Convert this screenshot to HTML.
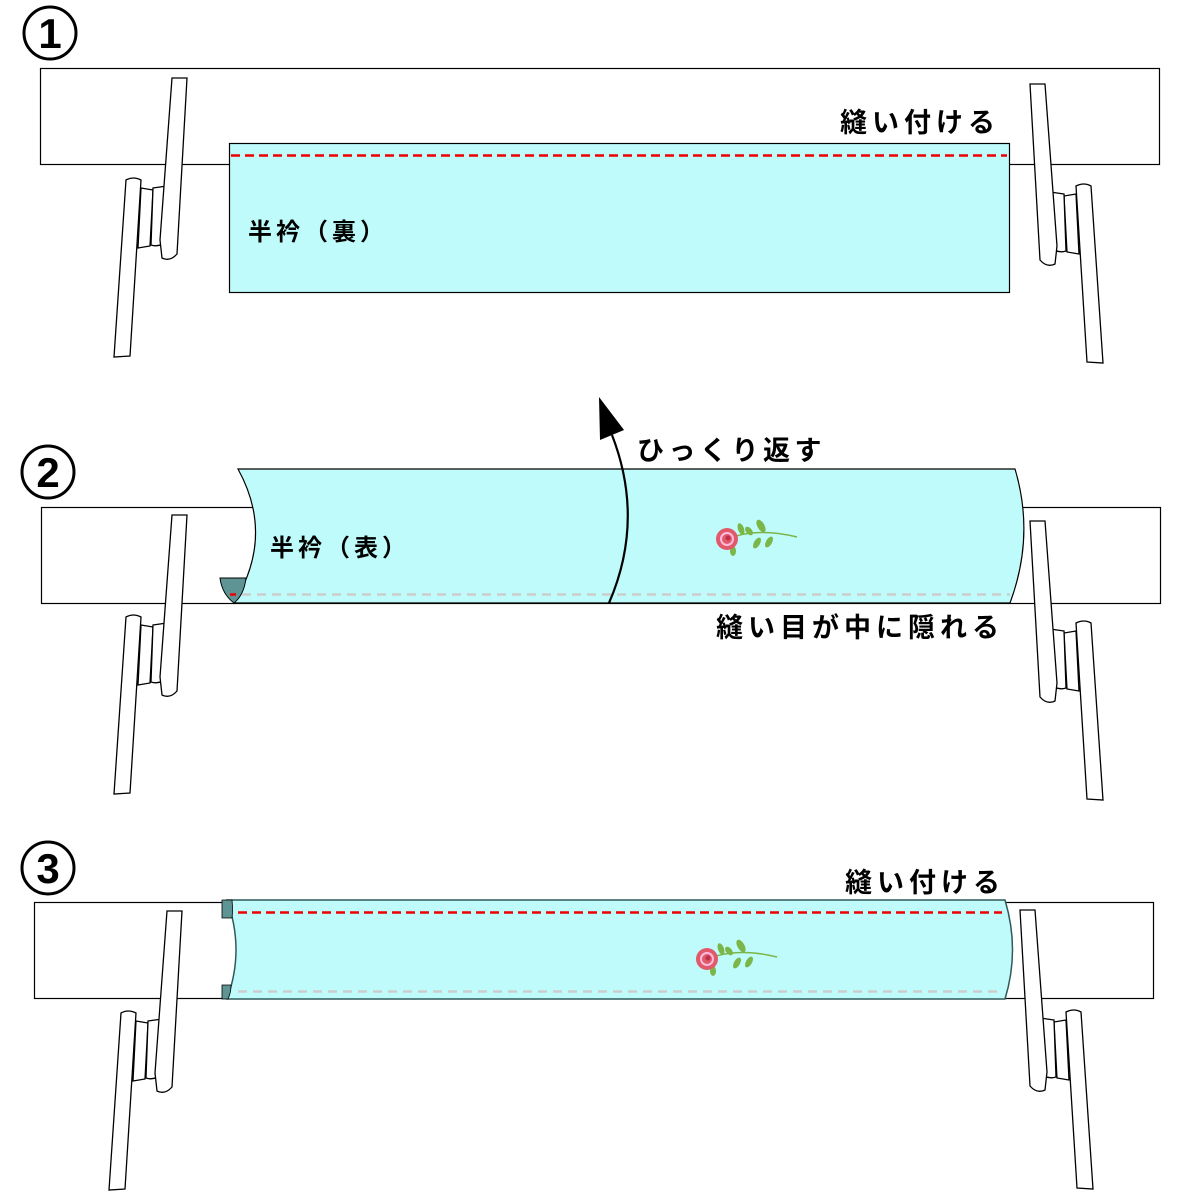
<!DOCTYPE html>
<html><head><meta charset="utf-8"><style>
html,body{margin:0;padding:0;background:#fff}
svg{display:block}
text{font-family:"Liberation Sans","Noto Sans CJK JP",sans-serif;font-weight:bold;fill:#000}
</style></head><body>
<svg width="1200" height="1200" viewBox="0 0 1200 1200" xmlns="http://www.w3.org/2000/svg">
<defs>
<g id="clipL" fill="#fff" stroke="#000" stroke-width="1.3">
  <path d="M126,180 Q133,176 141,180 L130,356 L114,357 Z"/>
  <path d="M141,188 L153,190 L150,246 L138,248 Z"/>
  <path d="M153,188 L167,186 L163,244 Q157,247 151,245 Z"/>
  <path d="M172,78 L187,78 L177,254 Q170,262 162,258 L160,240 Z"/>
</g>
<g id="rose">
  <path d="M0,0 Q30,-12 70,-2" stroke="#7ab648" stroke-width="1.5" fill="none"/>
  <ellipse cx="14" cy="-10" rx="3" ry="6" fill="#7ab648" transform="rotate(-20 14 -10)"/>
  <ellipse cx="22" cy="-8" rx="3" ry="5" fill="#7ab648" transform="rotate(-40 22 -8)"/>
  <ellipse cx="34" cy="-13" rx="3.5" ry="7" fill="#7ab648" transform="rotate(-30 34 -13)"/>
  <ellipse cx="30" cy="4" rx="3" ry="6" fill="#7ab648" transform="rotate(30 30 4)"/>
  <ellipse cx="42" cy="3" rx="3" ry="6" fill="#7ab648" transform="rotate(30 42 3)"/>
  <ellipse cx="6" cy="12" rx="3" ry="5" fill="#7ab648"/>
  <circle cx="0" cy="0" r="11" fill="#e05a6a"/>
  <circle cx="0" cy="0" r="6" fill="none" stroke="#fbd" stroke-width="2"/>
  <circle cx="1" cy="-1" r="2.5" fill="#c0304a"/>
</g>
</defs>

<!-- Panel 1 -->
<circle cx="50" cy="33" r="26" fill="none" stroke="#000" stroke-width="3"/>
<text x="50" y="48" font-size="42" text-anchor="middle" font-family="Liberation Sans">1</text>
<rect x="40.5" y="68.5" width="1119" height="96" fill="#fff" stroke="#000" stroke-width="1.2"/>
<use href="#clipL"/>
<use href="#clipL" transform="translate(1217,6) scale(-1,1)"/>
<rect x="229.5" y="143.5" width="780" height="149" fill="#c0fbfb" stroke="#000" stroke-width="1.2"/>
<line x1="231" y1="155.5" x2="1007" y2="155.5" stroke="#e00" stroke-width="2.5" stroke-dasharray="9,5"/>
<text x="248" y="240" font-size="24" letter-spacing="4">半衿（裏）</text>
<text x="840" y="132" font-size="27" letter-spacing="5">縫い付ける</text>

<!-- Panel 2 -->
<circle cx="48" cy="472" r="26" fill="none" stroke="#000" stroke-width="3"/>
<text x="48" y="487" font-size="42" text-anchor="middle" font-family="Liberation Sans">2</text>
<rect x="41.5" y="507.5" width="1119" height="96" fill="#fff" stroke="#000" stroke-width="1.2"/>
<use href="#clipL" transform="translate(0,437)"/>
<use href="#clipL" transform="translate(1217,443) scale(-1,1)"/>
<path d="M238,469 L1015,469 Q1035,536 1010,603 L234,603 Q275,536 238,469 Z" fill="#c0fbfb" stroke="#000" stroke-width="1.2"/>
<path d="M220,578 L246,578 Q244,595 234,603 Q222,594 220,578 Z" fill="#5e9494" stroke="#000" stroke-width="1"/>
<line x1="230" y1="594.5" x2="236" y2="594.5" stroke="#e00" stroke-width="2.5"/>
<line x1="242" y1="594.5" x2="1010" y2="594.5" stroke="#ccc" stroke-width="2.5" stroke-dasharray="9,6"/>
<path d="M609,603 Q645,520 612,435" fill="none" stroke="#000" stroke-width="2.2"/>
<path d="M599,397 L624,430 L600,440 Z" fill="#000"/>
<use href="#rose" transform="translate(727,539)"/>
<text x="270" y="556" font-size="24" letter-spacing="4">半衿（表）</text>
<text x="637" y="460" font-size="27" letter-spacing="4.5">ひっくり返す</text>
<text x="716" y="637" font-size="27" letter-spacing="5">縫い目が中に隠れる</text>

<!-- Panel 3 -->
<circle cx="48" cy="868" r="26" fill="none" stroke="#000" stroke-width="3"/>
<text x="48" y="883" font-size="42" text-anchor="middle" font-family="Liberation Sans">3</text>
<rect x="34.5" y="902.5" width="1119" height="96" fill="#fff" stroke="#000" stroke-width="1.2"/>
<use href="#clipL" transform="translate(-5,833)"/>
<use href="#clipL" transform="translate(1207,832) scale(-1,1)"/>
<path d="M227,900 L1005,900 Q1020,950 1005,999 L227,999 Q245,950 227,900 Z" fill="#c0fbfb" stroke="#2f5a5a" stroke-width="1.5"/>
<path d="M222,900 L232,900 Q233,910 232,918 L222,918 Z" fill="#5e9494" stroke="#000" stroke-width="0.8"/>
<path d="M222,985 L231,985 Q231,993 228,999 L222,999 Z" fill="#5e9494" stroke="#000" stroke-width="0.8"/>
<line x1="238" y1="912.5" x2="1002" y2="912.5" stroke="#e00" stroke-width="2.5" stroke-dasharray="9,5"/>
<line x1="238" y1="991.5" x2="1003" y2="991.5" stroke="#ccc" stroke-width="2.5" stroke-dasharray="9,6"/>
<use href="#rose" transform="translate(707,959)"/>
<text x="845" y="892" font-size="27" letter-spacing="5">縫い付ける</text>
</svg>
</body></html>
